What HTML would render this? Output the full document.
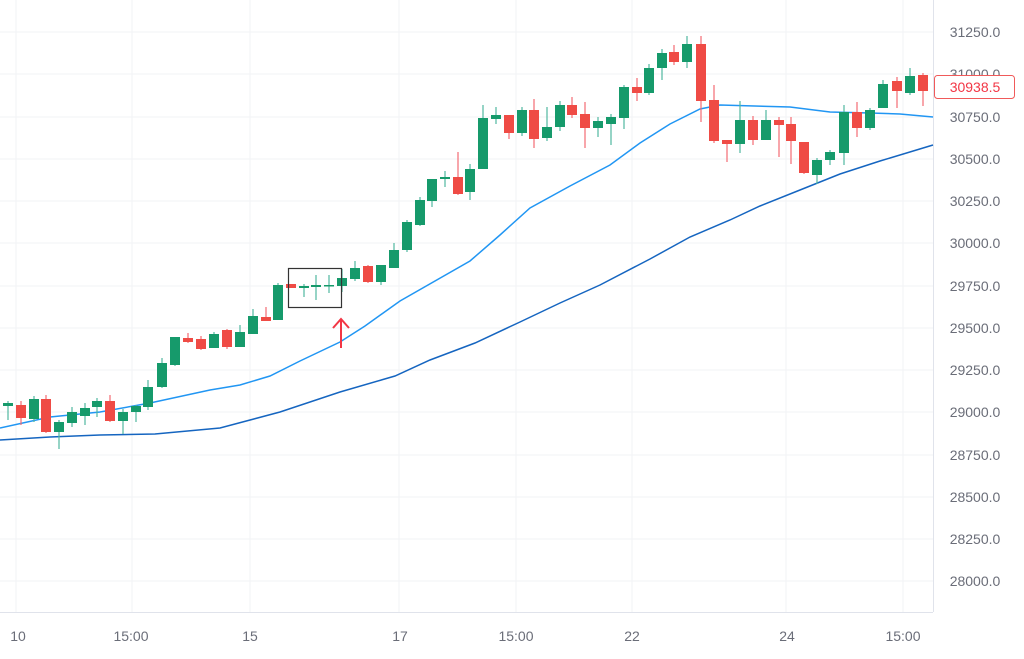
<!DOCTYPE html>
<html><head><meta charset="utf-8"><style>
html,body{margin:0;padding:0;background:#fff;}
svg{display:block;font-family:"Liberation Sans",sans-serif;}
</style></head><body>
<svg width="1024" height="659" viewBox="0 0 1024 659" xmlns="http://www.w3.org/2000/svg">
<g stroke="#f2f3f5" stroke-width="1">
<line x1="0" y1="32" x2="933" y2="32"/><line x1="0" y1="74" x2="933" y2="74"/><line x1="0" y1="117" x2="933" y2="117"/><line x1="0" y1="159" x2="933" y2="159"/><line x1="0" y1="201" x2="933" y2="201"/><line x1="0" y1="243" x2="933" y2="243"/><line x1="0" y1="286" x2="933" y2="286"/><line x1="0" y1="328" x2="933" y2="328"/><line x1="0" y1="370" x2="933" y2="370"/><line x1="0" y1="412" x2="933" y2="412"/><line x1="0" y1="455" x2="933" y2="455"/><line x1="0" y1="497" x2="933" y2="497"/><line x1="0" y1="539" x2="933" y2="539"/><line x1="0" y1="581" x2="933" y2="581"/>
<line x1="16" y1="0" x2="16" y2="612"/><line x1="132" y1="0" x2="132" y2="612"/><line x1="250" y1="0" x2="250" y2="612"/><line x1="399" y1="0" x2="399" y2="612"/><line x1="516" y1="0" x2="516" y2="612"/><line x1="632" y1="0" x2="632" y2="612"/><line x1="786" y1="0" x2="786" y2="612"/><line x1="903" y1="0" x2="903" y2="612"/>
</g>
<line x1="933.5" y1="0" x2="933.5" y2="612" stroke="#e0e3eb"/>
<line x1="0" y1="612.5" x2="933" y2="612.5" stroke="#e0e3eb"/>
<polyline fill="none" stroke="#2196f3" stroke-width="1.5" points="0,428 50,417 100,412 150,403 210,390 240,385 270,376 300,361 340,342 365,326 400,301 470,261 500,235 530,208 570,186 610,165 640,143 670,124 700,109 720,105 790,107 830,112 870,113 900,114 933,117"/>
<polyline fill="none" stroke="#1565c0" stroke-width="1.5" points="0,440 50,437 100,435 155,434 220,428 280,412 340,392 395,376 430,360 475,343 520,322 560,303 600,285 650,259 690,237 730,220 760,206 800,190 840,174 880,161 933,145"/>
<g stroke="#4fb79f" stroke-width="1.2">
<line x1="8" x2="8" y1="401" y2="420"/><line x1="34" x2="34" y1="396" y2="422"/><line x1="59" x2="59" y1="420" y2="449"/><line x1="72" x2="72" y1="407" y2="427"/><line x1="85" x2="85" y1="403" y2="425"/><line x1="97" x2="97" y1="398" y2="417"/><line x1="123" x2="123" y1="409" y2="434"/><line x1="136" x2="136" y1="405" y2="422"/><line x1="148" x2="148" y1="380" y2="410"/><line x1="162" x2="162" y1="358" y2="388"/><line x1="175" x2="175" y1="337" y2="366"/><line x1="214" x2="214" y1="332" y2="348"/><line x1="240" x2="240" y1="325" y2="347"/><line x1="253" x2="253" y1="309" y2="334"/><line x1="278" x2="278" y1="283" y2="320"/><line x1="304" x2="304" y1="284" y2="297"/><line x1="316" x2="316" y1="275" y2="300"/><line x1="329" x2="329" y1="275" y2="293"/><line x1="342" x2="342" y1="269" y2="292"/><line x1="355" x2="355" y1="261" y2="281"/><line x1="381" x2="381" y1="265" y2="285"/><line x1="394" x2="394" y1="243" y2="268"/><line x1="407" x2="407" y1="220" y2="252"/><line x1="420" x2="420" y1="197" y2="226"/><line x1="432" x2="432" y1="179" y2="207"/><line x1="445" x2="445" y1="171" y2="187"/><line x1="470" x2="470" y1="164" y2="200"/><line x1="483" x2="483" y1="105" y2="169"/><line x1="496" x2="496" y1="107" y2="124"/><line x1="522" x2="522" y1="107" y2="136"/><line x1="547" x2="547" y1="107" y2="141"/><line x1="560" x2="560" y1="101" y2="131"/><line x1="598" x2="598" y1="117" y2="137"/><line x1="611" x2="611" y1="114" y2="145"/><line x1="624" x2="624" y1="85" y2="129"/><line x1="649" x2="649" y1="64" y2="95"/><line x1="662" x2="662" y1="49" y2="80"/><line x1="687" x2="687" y1="36" y2="68"/><line x1="740" x2="740" y1="101" y2="153"/><line x1="766" x2="766" y1="110" y2="140"/><line x1="817" x2="817" y1="158" y2="184"/><line x1="830" x2="830" y1="150" y2="165"/><line x1="844" x2="844" y1="105" y2="165"/><line x1="870" x2="870" y1="108" y2="130"/><line x1="883" x2="883" y1="80" y2="108"/><line x1="910" x2="910" y1="68" y2="95"/>
</g>
<g stroke="#f46a73" stroke-width="1.2">
<line x1="21" x2="21" y1="401" y2="425"/><line x1="46" x2="46" y1="395" y2="433"/><line x1="110" x2="110" y1="395" y2="422"/><line x1="188" x2="188" y1="333" y2="343"/><line x1="201" x2="201" y1="336" y2="350"/><line x1="227" x2="227" y1="329" y2="349"/><line x1="266" x2="266" y1="307" y2="321"/><line x1="368" x2="368" y1="265" y2="283"/><line x1="458" x2="458" y1="152" y2="195"/><line x1="509" x2="509" y1="115" y2="139"/><line x1="534" x2="534" y1="99" y2="148"/><line x1="572" x2="572" y1="97" y2="118"/><line x1="585" x2="585" y1="102" y2="148"/><line x1="637" x2="637" y1="78" y2="101"/><line x1="674" x2="674" y1="45" y2="65"/><line x1="701" x2="701" y1="36" y2="122"/><line x1="714" x2="714" y1="85" y2="143"/><line x1="727" x2="727" y1="140" y2="162"/><line x1="753" x2="753" y1="116" y2="145"/><line x1="779" x2="779" y1="117" y2="157"/><line x1="791" x2="791" y1="117" y2="164"/><line x1="804" x2="804" y1="142" y2="174"/><line x1="857" x2="857" y1="102" y2="137"/><line x1="897" x2="897" y1="77" y2="108"/><line x1="923" x2="923" y1="73" y2="106"/>
</g>
<g fill="#169a6b">
<rect x="3" y="403" width="10" height="3"/><rect x="29" y="399" width="10" height="20"/><rect x="54" y="422" width="10" height="10"/><rect x="67" y="412" width="10" height="11"/><rect x="80" y="408" width="10" height="8"/><rect x="92" y="401" width="10" height="6"/><rect x="118" y="412" width="10" height="9"/><rect x="131" y="406" width="10" height="6"/><rect x="143" y="387" width="10" height="20"/><rect x="157" y="363" width="10" height="24"/><rect x="170" y="337" width="10" height="28"/><rect x="209" y="334" width="10" height="14"/><rect x="235" y="332" width="10" height="15"/><rect x="248" y="316" width="10" height="18"/><rect x="273" y="285" width="10" height="35"/><rect x="299" y="286" width="10" height="2"/><rect x="311" y="285" width="10" height="2"/><rect x="324" y="285" width="10" height="1.5"/><rect x="337" y="278" width="10" height="8"/><rect x="350" y="268" width="10" height="11"/><rect x="376" y="265" width="10" height="17"/><rect x="389" y="250" width="10" height="18"/><rect x="402" y="222" width="10" height="28"/><rect x="415" y="200" width="10" height="25"/><rect x="427" y="179" width="10" height="22"/><rect x="440" y="177" width="10" height="2"/><rect x="465" y="169" width="10" height="23"/><rect x="478" y="118" width="10" height="51"/><rect x="491" y="115" width="10" height="4"/><rect x="517" y="110" width="10" height="23"/><rect x="542" y="127" width="10" height="11"/><rect x="555" y="105" width="10" height="22"/><rect x="593" y="121" width="10" height="7"/><rect x="606" y="117" width="10" height="7"/><rect x="619" y="87" width="10" height="31"/><rect x="644" y="68" width="10" height="25"/><rect x="657" y="53" width="10" height="15"/><rect x="682" y="44" width="10" height="18"/><rect x="735" y="120" width="10" height="24"/><rect x="761" y="120" width="10" height="20"/><rect x="812" y="160" width="10" height="15"/><rect x="825" y="152" width="10" height="8"/><rect x="839" y="112" width="10" height="41"/><rect x="865" y="110" width="10" height="18"/><rect x="878" y="84" width="10" height="24"/><rect x="905" y="76" width="10" height="17"/>
</g>
<g fill="#ef4b45">
<rect x="16" y="405" width="10" height="13"/><rect x="41" y="399" width="10" height="33"/><rect x="105" y="401" width="10" height="20"/><rect x="183" y="338" width="10" height="4"/><rect x="196" y="339" width="10" height="10"/><rect x="222" y="330" width="10" height="17"/><rect x="261" y="317" width="10" height="4"/><rect x="286" y="284" width="10" height="4"/><rect x="363" y="266" width="10" height="16"/><rect x="453" y="177" width="10" height="17"/><rect x="504" y="115" width="10" height="18"/><rect x="529" y="110" width="10" height="29"/><rect x="567" y="105" width="10" height="10"/><rect x="580" y="114" width="10" height="14"/><rect x="632" y="87" width="10" height="6"/><rect x="669" y="52" width="10" height="10"/><rect x="696" y="44" width="10" height="57"/><rect x="709" y="100" width="10" height="41"/><rect x="722" y="140" width="10" height="4"/><rect x="748" y="120" width="10" height="20"/><rect x="774" y="120" width="10" height="5"/><rect x="786" y="124" width="10" height="17"/><rect x="799" y="142" width="10" height="31"/><rect x="852" y="112" width="10" height="16"/><rect x="892" y="81" width="10" height="10"/><rect x="918" y="75" width="10" height="16"/>
</g>
<rect x="288.5" y="268.5" width="53" height="39" fill="none" stroke="#333" stroke-width="1.2"/>
<g stroke="#f23645" stroke-width="2" fill="none"><line x1="341" y1="348" x2="341" y2="319"/><polyline points="333,328 341,319 349,328"/></g>
<g fill="#6a6d78" font-size="14" text-anchor="middle">
<text x="975" y="37">31250.0</text><text x="975" y="79">31000.0</text><text x="975" y="122">30750.0</text><text x="975" y="164">30500.0</text><text x="975" y="206">30250.0</text><text x="975" y="248">30000.0</text><text x="975" y="291">29750.0</text><text x="975" y="333">29500.0</text><text x="975" y="375">29250.0</text><text x="975" y="417">29000.0</text><text x="975" y="460">28750.0</text><text x="975" y="502">28500.0</text><text x="975" y="544">28250.0</text><text x="975" y="586">28000.0</text>
<text x="18" y="641">10</text><text x="131" y="641">15:00</text><text x="250" y="641">15</text><text x="400" y="641">17</text><text x="516" y="641">15:00</text><text x="632" y="641">22</text><text x="787" y="641">24</text><text x="903" y="641">15:00</text>
</g>
<rect x="934.5" y="75.5" width="80" height="23" rx="3" fill="#fff" stroke="#f05a5a"/>
<text x="975" y="92" font-size="14" fill="#f23645" text-anchor="middle">30938.5</text>
</svg>
</body></html>
